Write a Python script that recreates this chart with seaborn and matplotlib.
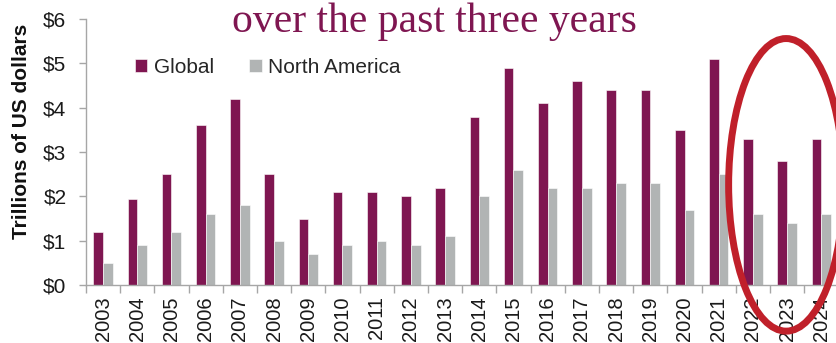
import matplotlib
matplotlib.use("Agg")
import matplotlib.pyplot as plt
import seaborn as sns
import pandas as pd
from matplotlib.patches import Ellipse
from matplotlib.ticker import FixedLocator

years = [str(y) for y in range(2003, 2025)]
global_vals = [1.2, 1.95, 2.5, 3.6, 4.2, 2.5, 1.5, 2.1, 2.1, 2.0, 2.2, 3.8, 4.9, 4.1, 4.6, 4.4, 4.4, 3.5, 5.1, 3.3, 2.8, 3.3]
na_vals = [0.5, 0.9, 1.2, 1.6, 1.8, 1.0, 0.7, 0.9, 1.0, 0.9, 1.1, 2.0, 2.6, 2.2, 2.2, 2.3, 2.3, 1.7, 2.5, 1.6, 1.4, 1.6]
series = ["Global", "North America"]
yticks = [0, 1, 2, 3, 4, 5, 6]
ytick_labels = ["$0", "$1", "$2", "$3", "$4", "$5", "$6"]
title = "over the past three years"
ylabel = "Trillions of US dollars"

df = pd.DataFrame({
    "year": years * 2,
    "value": global_vals + na_vals,
    "series": [series[0]] * len(years) + [series[1]] * len(years),
})

sns.set_style("white")
plt.rcParams['font.family'] = ['Liberation Sans', 'DejaVu Sans']

purple = "#7F1651"
grey = "#B1B4B4"
spine_c = "#A6A6A6"

fig = plt.figure(figsize=(8.37, 3.43), dpi=100)
ax = fig.add_axes([0.1027, 0.169, 0.899, 0.7755])

sns.barplot(data=df, x="year", y="value", hue="series", palette=[purple, grey],
            width=0.57, ax=ax, edgecolor="white", linewidth=0.4, saturation=1)

ax.set_ylim(0, 6)
ax.set_xlim(-0.5, len(years) - 0.5)
ax.set_yticks(yticks)
ax.set_yticklabels(ytick_labels, fontsize=15, color="#1a1a1a")
ax.tick_params(axis="y", direction="out", length=5, width=1, color=spine_c, left=True, pad=9)
ax.set_xticks(range(len(years)))
ax.set_xticklabels(years, rotation=90, fontsize=14.5, color="#1a1a1a")
ax.tick_params(axis="x", which="major", length=0, pad=8)
ax.xaxis.set_minor_locator(FixedLocator([i - 0.5 for i in range(len(years) + 1)]))
ax.tick_params(axis="x", which="minor", direction="out", length=6, width=1, color=spine_c, bottom=True)

for s in ["top", "right"]:
    ax.spines[s].set_visible(False)
for s in ["left", "bottom"]:
    ax.spines[s].set_color(spine_c)
    ax.spines[s].set_linewidth(1)

ax.set_xlabel("")
ax.set_ylabel(ylabel, fontsize=15, fontweight="bold", color="#111111")
ax.yaxis.set_label_coords(-0.073, 0.579)

leg = ax.legend(loc="upper left", bbox_to_anchor=(0.04, 0.925), ncol=2, frameon=False,
                fontsize=15, handlelength=0.6, handleheight=0.6, handletextpad=0.3,
                columnspacing=1.7)

fig.text(232 / 837, 1 - 32 / 343, title, fontsize=30, color=purple,
         family=["Liberation Serif", "DejaVu Serif"], ha="left", va="baseline")

ell = Ellipse((19.97, 2.26), width=3.36, height=6.6, fill=False, edgecolor="#C0202A",
              linewidth=5, clip_on=False, zorder=5)
ax.add_patch(ell)

fig.savefig("out.png", dpi=100)
